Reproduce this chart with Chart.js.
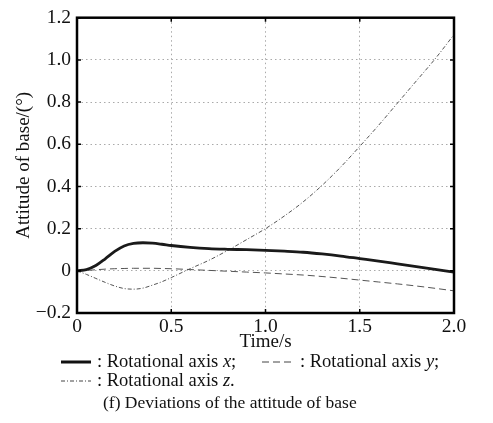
<!DOCTYPE html>
<html lang="en">
<head>
<meta charset="UTF-8">
<title>Deviations of the attitude of base</title>
<script src="https://cdn.jsdelivr.net/npm/chart.js"></script>
<style>
  body { margin: 0; background: #fff; }
  canvas { display: block; }
</style>
</head>
<body>
<canvas id="attitude" width="493" height="423"></canvas>
<script>
// time samples (s) and base attitude deviations (deg) about each rotational axis
const times = [0, 0.05, 0.1, 0.15, 0.2, 0.25, 0.3, 0.35, 0.4, 0.45, 0.5, 0.6, 0.7, 0.8, 0.9,
               1.0, 1.1, 1.2, 1.3, 1.4, 1.5, 1.6, 1.7, 1.8, 1.9, 2.0];
const rotX = [0, 0.006, 0.025, 0.057, 0.092, 0.118, 0.13, 0.133, 0.131, 0.126, 0.12, 0.111, 0.105, 0.102, 0.1,
              0.097, 0.093, 0.088, 0.08, 0.07, 0.058, 0.046, 0.033, 0.02, 0.007, -0.006];
const rotY = [0, 0.002, 0.005, 0.008, 0.01, 0.011, 0.012, 0.012, 0.012, 0.011, 0.01, 0.006, 0.002, -0.002, -0.006,
              -0.01, -0.015, -0.02, -0.027, -0.035, -0.044, -0.053, -0.062, -0.072, -0.083, -0.095];
const rotZ = [0, -0.017, -0.036, -0.055, -0.072, -0.084, -0.087, -0.082, -0.068, -0.052, -0.032, 0.01, 0.05, 0.097, 0.148,
              0.2, 0.26, 0.327, 0.405, 0.493, 0.59, 0.69, 0.795, 0.9, 1.005, 1.12];

const xTicks = [0, 0.5, 1.0, 1.5, 2.0];
const yTicks = [-0.2, 0, 0.2, 0.4, 0.6, 0.8, 1.0, 1.2];

const SERIF = '"Liberation Serif", "DejaVu Serif", serif';

function series(vals) {
  return times.map((t, i) => ({ x: t, y: vals[i] }));
}

function fmt(v) {
  if (Math.abs(v) < 1e-9) return '0';
  const s = Math.abs(v).toFixed(1);
  return v < 0 ? '\u2212' + s : s;
}

// frame, inward tick marks, legend and caption
const decor = {
  id: 'decor',
  afterDraw(chart) {
    const { ctx, chartArea: a, scales: { x, y } } = chart;
    ctx.save();
    ctx.strokeStyle = '#000';
    ctx.lineWidth = 1.5;
    ctx.beginPath();
    xTicks.forEach(v => {
      const px = x.getPixelForValue(v);
      ctx.moveTo(px, a.bottom); ctx.lineTo(px, a.bottom - 4);
      ctx.moveTo(px, a.top); ctx.lineTo(px, a.top + 4);
    });
    yTicks.forEach(v => {
      const py = y.getPixelForValue(v);
      ctx.moveTo(a.left, py); ctx.lineTo(a.left + 4, py);
      ctx.moveTo(a.right, py); ctx.lineTo(a.right - 4, py);
    });
    ctx.stroke();
    ctx.lineWidth = 2.5;
    ctx.strokeRect(a.left, a.top, a.right - a.left, a.bottom - a.top);

    // legend
    const row1 = 362, row2 = 381;
    ctx.lineWidth = 3;
    ctx.strokeStyle = '#111';
    ctx.beginPath(); ctx.moveTo(61, row1); ctx.lineTo(91, row1); ctx.stroke();
    ctx.lineWidth = 1;
    ctx.strokeStyle = '#444';
    ctx.setLineDash([7, 4]);
    ctx.beginPath(); ctx.moveTo(262, row1); ctx.lineTo(294, row1); ctx.stroke();
    ctx.setLineDash([4, 2, 1, 2]);
    ctx.beginPath(); ctx.moveTo(61, row2); ctx.lineTo(91, row2); ctx.stroke();
    ctx.setLineDash([]);

    ctx.fillStyle = '#111';
    ctx.textBaseline = 'middle';
    const size = 18.5;
    const entry = (x0, yy, text, sym, tail) => {
      ctx.font = size + 'px ' + SERIF;
      ctx.fillText(text, x0, yy);
      let cx = x0 + ctx.measureText(text).width;
      ctx.font = 'italic ' + size + 'px ' + SERIF;
      ctx.fillText(sym, cx, yy);
      cx += ctx.measureText(sym).width;
      ctx.font = size + 'px ' + SERIF;
      ctx.fillText(tail, cx, yy);
    };
    entry(97, row1, ': Rotational axis ', 'x', ';');
    entry(300, row1, ': Rotational axis ', 'y', ';');
    entry(97, row2, ': Rotational axis ', 'z', '.');

    ctx.font = '17.5px ' + SERIF;
    ctx.fillText('(f) Deviations of the attitude of base', 103, 403);
    ctx.restore();
  }
};

new Chart(document.getElementById('attitude'), {
  type: 'line',
  data: {
    datasets: [
      { label: 'Rotational axis x', data: series(rotX), borderColor: '#1a1a1a', borderWidth: 2.8 },
      { label: 'Rotational axis y', data: series(rotY), borderColor: '#555', borderWidth: 1, borderDash: [7, 4] },
      { label: 'Rotational axis z', data: series(rotZ), borderColor: '#555', borderWidth: 1, borderDash: [4, 2, 1, 2] }
    ]
  },
  options: {
    responsive: false,
    animation: false,
    devicePixelRatio: 1,
    layout: { padding: { left: 0, right: 39, top: 16, bottom: 0 } },
    elements: {
      point: { radius: 0 },
      line: { cubicInterpolationMode: 'monotone', fill: false }
    },
    plugins: { legend: { display: false }, tooltip: { enabled: false } },
    scales: {
      x: {
        type: 'linear',
        min: 0, max: 2,
        afterFit: s => { s.height = 110; },
        afterBuildTicks: s => { s.ticks = xTicks.map(v => ({ value: v })); },
        grid: { color: '#aaa', drawTicks: false, lineWidth: 1 },
        border: { display: false, dash: [1.5, 3] },
        ticks: {
          padding: 2, color: '#111', maxRotation: 0,
          font: { family: SERIF, size: 19.5 },
          callback: v => fmt(v)
        },
        title: {
          display: true, text: 'Time/s', color: '#111',
          font: { family: SERIF, size: 19 },
          padding: { top: 0, bottom: 70 }
        }
      },
      y: {
        min: -0.2, max: 1.2,
        afterFit: s => { s.width = 77; },
        afterBuildTicks: s => { s.ticks = yTicks.map(v => ({ value: v })); },
        grid: { color: '#aaa', drawTicks: false, lineWidth: 1 },
        border: { display: false, dash: [1.5, 3] },
        ticks: {
          padding: 6, color: '#111',
          font: { family: SERIF, size: 19.5 },
          callback: v => fmt(v)
        },
        title: {
          display: true, text: 'Attitude of base/(\u00b0)', color: '#111',
          font: { family: SERIF, size: 19 },
          padding: { top: 13, bottom: 0 }
        }
      }
    }
  },
  plugins: [decor]
});
</script>
</body>
</html>
